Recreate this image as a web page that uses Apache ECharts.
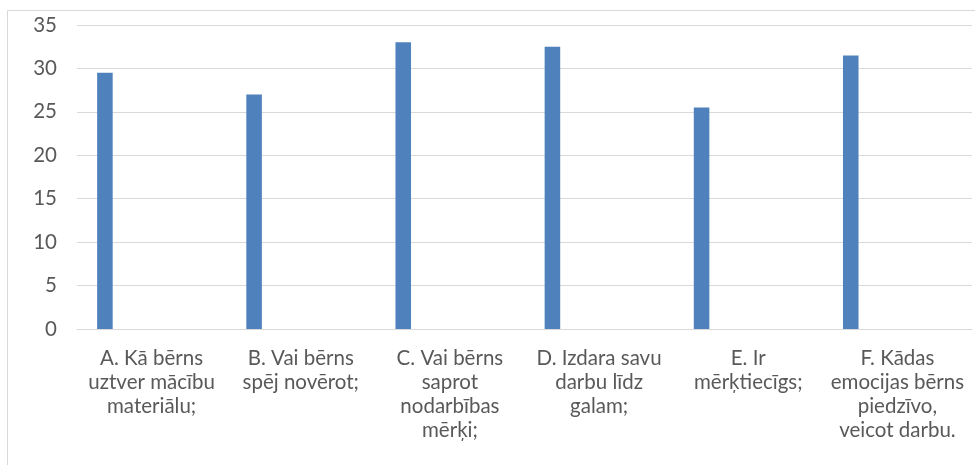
<!DOCTYPE html>
<html><head><meta charset="utf-8">
<script src="https://cdn.jsdelivr.net/npm/echarts@6/dist/echarts.min.js"></script>
<style>html,body{margin:0;padding:0;background:#fff}#c{width:975px;height:465px}</style>
</head><body><div id="c"></div>
<script>
const categories = [
  'A. Kā bērns\nuztver mācību\nmateriālu;',
  'B. Vai bērns\nspēj novērot;',
  'C. Vai bērns\nsaprot\nnodarbības\nmērķi;',
  'D. Izdara savu\ndarbu līdz\ngalam;',
  'E. Ir\nmērķtiecīgs;',
  'F. Kādas\nemocijas bērns\npiedzīvo,\nveicot darbu.'
];
const values = [29.5, 27, 33, 32.5, 25.5, 31.5];
const yTicks = { min: 0, max: 35, interval: 5 };
const emptySeriesCount = 6;

const font = 'Lato, "Noto Sans", sans-serif';
const series = [{ type: 'bar', data: values, itemStyle: { color: '#4f81bd' }, barGap: '0%', barCategoryGap: '27%' }];
for (let i = 0; i < emptySeriesCount; i++) {
  series.push({ type: 'bar', data: categories.map(() => '-'), barGap: '0%', barCategoryGap: '27%' });
}
const chart = echarts.init(document.getElementById('c'), null, { renderer: 'canvas' });
chart.setOption({
  animation: false,
  grid: { left: 77, right: 3, top: 25, bottom: 136, containLabel: false },
  graphic: [{ type: 'rect', shape: { x: 7.5, y: 10.5, width: 1000, height: 500 }, style: { fill: 'none', stroke: '#d9d9d9', lineWidth: 1 }, silent: true }],
  xAxis: {
    type: 'category', data: categories,
    axisLine: { lineStyle: { color: '#d9d9d9', width: 1 } },
    axisTick: { show: false },
    axisLabel: { interval: 0, color: '#595959', fontFamily: font, fontSize: 20.5, lineHeight: 24, margin: 17 }
  },
  yAxis: {
    type: 'value', min: yTicks.min, max: yTicks.max, interval: yTicks.interval,
    axisLine: { show: false }, axisTick: { show: false },
    splitLine: { lineStyle: { color: '#d9d9d9', width: 1 } },
    axisLabel: { color: '#595959', fontFamily: font, fontSize: 20.5, margin: 20 }
  },
  series: series
});
</script></body></html>
